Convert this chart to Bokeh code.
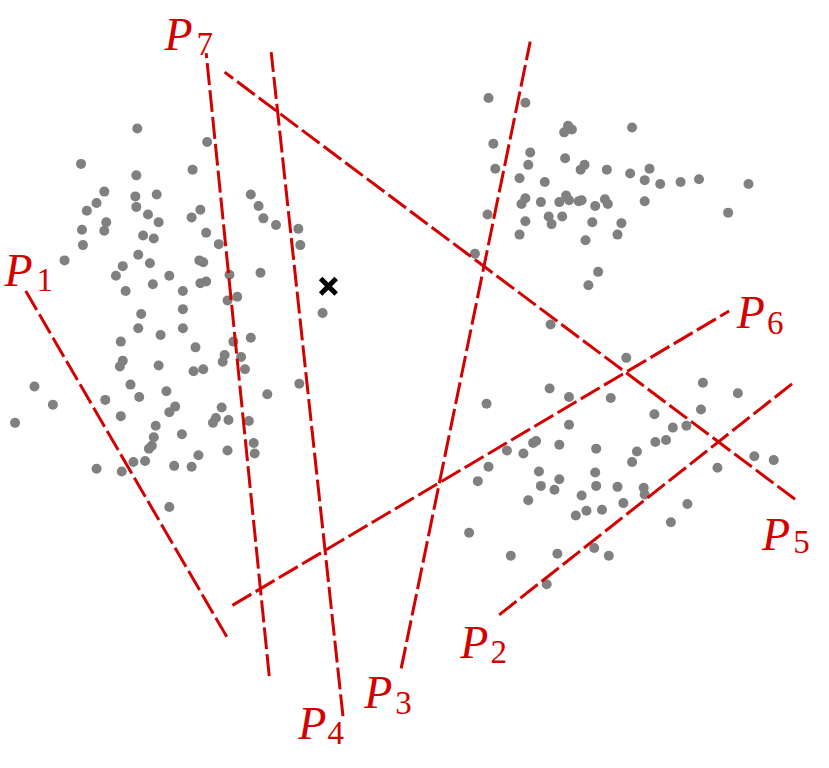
from bokeh.plotting import figure
from bokeh.models import Range1d
from bokeh.core.properties import value
from bokeh.embed import file_html
from bokeh.resources import INLINE

# Data in reference units (x to the right, y downward)
pts_x = [139,211,81,196,138,105,97,87,137,159,138,150,161,204,195,256,264,269,282,305,307,107,105,82,83,145,156,210,223,64,140,152,203,207,124,117,172,155,204,210,234,266,127,186,232,242,143,186,330,
         140,163,186,122,199,238,256,229,246,227,250,124,121,161,197,207,33,52,13,132,141,106,169,178,172,122,226,220,217,233,254,273,306,158,156,154,151,185,232,259,260,202,135,147,177,195,97,123,172,
         501,539,649,583,587,579,506,544,542,580,508,600,596,623,647,667,662,678,699,718,769,533,559,539,535,555,574,581,584,597,594,621,624,611,662,748,500,539,563,566,577,608,638,634,533,601,487,614,604,
         565,
         643,722,758,564,584,627,499,672,720,584,691,705,547,550,520,537,574,612,673,684,654,649,775,795,737,501,490,553,555,574,569,611,612,634,661,662,597,640,618,602,591,542,706,689,481,524,572,610,625,561]
pts_y = [130,144,167,173,179,196,208,216,201,199,212,220,228,215,223,199,211,224,231,235,252,228,237,236,252,242,245,239,251,268,262,271,268,270,274,284,284,293,292,290,283,281,300,300,310,306,324,319,323,
         339,346,339,353,359,353,349,367,369,374,382,373,379,378,384,382,400,419,438,398,411,414,405,421,427,431,422,433,438,435,436,408,397,441,453,462,465,450,467,459,470,472,479,478,483,484,486,489,526,
         98,103,129,127,131,134,146,155,168,161,172,168,173,173,177,172,184,188,186,183,188,182,186,203,209,207,207,200,205,205,206,204,209,211,206,218,220,227,222,230,222,228,229,241,241,247,261,280,294,
         335,
         370,396,407,402,411,412,418,429,424,440,443,441,459,457,467,470,461,465,458,456,468,479,473,477,485,484,499,489,504,497,508,490,504,505,506,513,514,522,529,530,535,519,523,542,553,577,575,569,577,607]

# Marked point
mark_x = [336]
mark_y = [295]

# Lines P1..P7: endpoints
line_names = ["1", "2", "3", "4", "5", "6", "7"]
line_x0 = [24, 512, 411, 351, 817, 237, 275]
line_y0 = [300, 639, 695, 745, 518, 629, 703]
line_x1 = [233, 814, 544, 277, 229, 749, 210]
line_y1 = [665, 397, 39, 50, 71, 321, 51]

# Label anchors (main letter and subscript), left/baseline
lab_x = [2, 472, 373, 305, 783, 757, 167]
lab_y = [279, 668, 720, 753, 555, 323, 32]
sub_x = [35, 503, 405, 335, 815, 788, 200]
sub_y = [289, 678, 731, 763, 563, 333, 42]

RED = "#d40000"
W, H = 813, 752
p = figure(width=W, height=H, output_backend="svg", toolbar_location=None,
           x_range=Range1d(-2, 836), y_range=Range1d(783, -4),
           min_border=0, outline_line_color=None,
           x_axis_location=None, y_axis_location=None)
p.xgrid.visible = False
p.ygrid.visible = False
p.background_fill_color = "white"
p.border_fill_color = "white"

p.scatter(pts_x, pts_y, size=10, color="#808080", line_color=None)

p.segment(x0=line_x0, y0=line_y0, x1=line_x1, y1=line_y1,
          line_color=RED, line_width=3, line_dash="22 5")

p.scatter(mark_x, mark_y, marker="x", size=22, line_color="black", line_width=5)

p.text(x=lab_x, y=lab_y, text=["P"] * len(lab_x), text_color=RED,
       text_font=value("Liberation Serif"), text_font_style="italic",
       text_font_size="46px", text_align="left", text_baseline="alphabetic")
p.text(x=sub_x, y=sub_y, text=line_names, text_color=RED,
       text_font=value("Liberation Serif"), text_font_style="normal",
       text_font_size="33px", text_align="left", text_baseline="alphabetic")

open("out.html", "w").write(file_html(p, INLINE))
